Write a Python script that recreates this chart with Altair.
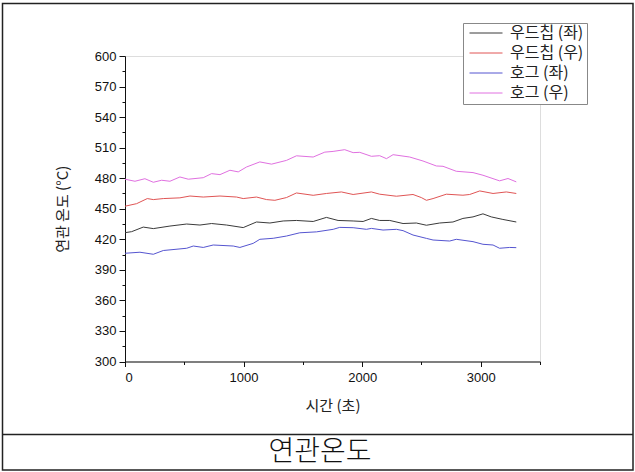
import altair as alt
import pandas as pd

series_names = ["우드칩 (좌)", "우드칩 (우)", "호그 (좌)", "호그 (우)"]
series_colors = ["#3a3a3a", "#e05555", "#5555d0", "#e070e0"]

t_wood_left = [0, 56, 154, 239, 379, 520, 632, 730, 857, 997, 1109, 1222, 1334, 1446, 1587, 1699, 1797, 1924,
               2008, 2078, 2148, 2233, 2345, 2457, 2542, 2654, 2766, 2850, 2935, 3019, 3089, 3187, 3300]
v_wood_left = [426.5, 427.5, 432, 430.5, 433, 435, 434, 435.5, 434, 431.5, 437, 436, 438, 438.5, 437.5, 441.5, 438.5, 438,
               437.5, 440.5, 438.5, 438.5, 435.5, 436, 433.8, 436, 437, 440.5, 442, 445, 442, 439.5, 437]

t_wood_right = [0, 98, 188, 239, 323, 463, 548, 660, 801, 941, 997, 1109, 1194, 1264, 1362, 1446, 1587, 1699, 1825,
                1924, 2078, 2148, 2289, 2429, 2499, 2542, 2598, 2710, 2850, 2907, 2992, 3104, 3216, 3300]
v_wood_right = [452.5, 455, 460, 459, 460, 460.7, 462.5, 461.5, 462.5, 461.5, 460, 461.5, 459, 458.3, 461, 465.5, 463.2, 465, 466.5,
                464, 466.5, 464.3, 462.3, 464, 461, 458.3, 460, 464.3, 463.3, 464, 467.5, 465, 466.5, 465]

t_hog_left = [0, 126, 239, 323, 520, 576, 660, 744, 913, 969, 1081, 1137, 1250, 1362, 1474, 1615, 1756, 1811, 1924,
              2036, 2078, 2176, 2289, 2345, 2429, 2542, 2598, 2738, 2794, 2935, 3019, 3104, 3159, 3244, 3300]
v_hog_left = [406.3, 407.3, 405.3, 409, 411.2, 413.4, 412, 414.4, 413.4, 412, 416, 420, 421, 423.2, 426.4, 427.3, 429.8, 431.7, 431.4,
              429.8, 430.7, 429.1, 429.8, 428.5, 424.2, 420.9, 419.3, 418.3, 420, 417.7, 415.1, 414.4, 411.2, 412, 411.8]

t_hog_right = [0, 84, 168, 239, 309, 379, 463, 534, 660, 730, 801, 885, 955, 1025, 1137, 1236, 1362, 1446, 1587, 1685,
               1755, 1853, 1924, 1980, 2078, 2148, 2205, 2261, 2401, 2513, 2626, 2682, 2794, 2935, 3019, 3159, 3230, 3300]
v_hog_right = [479, 477, 479.5, 476, 478, 477, 481.2, 479, 480.5, 484.5, 483.5, 487.8, 486.2, 491, 496, 493.8, 497.5, 502, 500.8, 505.6,
               506.3, 508, 505.1, 505.4, 501.5, 502.1, 499.2, 503.1, 500.8, 496.9, 492, 491.7, 486.8, 485.5, 482.9, 477.4, 479.7, 476.4]

x_ticks = [0, 500, 1000, 1500, 2000, 2500, 3000, 3500]
y_ticks = [300 + 15 * i for i in range(21)]

x_title = "시간 (초)"
y_title = "연관 온도 (°C)"
caption = "연관온도"

rows = []
for name, ts, vs in zip(series_names,
                        [t_wood_left, t_wood_right, t_hog_left, t_hog_right],
                        [v_wood_left, v_wood_right, v_hog_left, v_hog_right]):
    for t, v in zip(ts, vs):
        rows.append({"series": name, "t": t, "v": v})
df = pd.DataFrame(rows)

KFONT = "Noto Sans CJK KR"
NFONT = "Liberation Sans"

lines = alt.Chart(df).mark_line(strokeWidth=1).encode(
    x=alt.X("t:Q", scale=alt.Scale(domain=[0, 3500], nice=False),
            axis=alt.Axis(values=x_ticks, title=x_title, grid=False, format="d",
                          labelExpr="datum.value % 1000 == 0 ? datum.label : ''",
                          tickSize={"condition": {"test": "datum.value % 1000 != 0", "value": 3}, "value": 5},
                          labelFont=NFONT, labelFontSize=13, labelColor="#111", labelPadding=5,
                          titleFont=KFONT, titleFontSize=15, titleFontWeight="normal", titleColor="#222",
                          titleY=43.5, titleBaseline="middle",
                          domainColor="#111", tickColor="#111")),
    y=alt.Y("v:Q", scale=alt.Scale(domain=[300, 600], nice=False, zero=False),
            axis=alt.Axis(values=y_ticks, title=y_title, grid=False, format="d",
                          labelExpr="datum.value % 30 == 0 ? datum.label : ''",
                          tickSize={"condition": {"test": "datum.value % 30 != 0", "value": 3}, "value": 6},
                          labelFont=NFONT, labelFontSize=13, labelColor="#111", labelPadding=3,
                          titleFont=KFONT, titleFontSize=15, titleFontWeight="normal", titleColor="#222",
                          titleX=-63, titleBaseline="middle",
                          domainColor="#111", tickColor="#111")),
    color=alt.Color("series:N", sort=series_names,
                    scale=alt.Scale(domain=series_names, range=series_colors),
                    legend=alt.Legend(orient="none", legendX=338, legendY=-33, title=None,
                                      symbolType="stroke", symbolSize=1089, symbolStrokeWidth=1,
                                      symbolOffset=3,
                                      labelFont=KFONT, labelFontSize=16, labelColor="#222",
                                      labelOffset=7, strokeColor="#888", fillColor="white",
                                      padding=3, rowPadding=4, clipHeight=14)),
    detail="series:N",
)

base = alt.Chart(pd.DataFrame({"k": [0]}))
frame = base.mark_rect(fillOpacity=0, stroke="#222", strokeWidth=1.5).encode(
    x=alt.value(-122.5), x2=alt.value(508), y=alt.value(-52.5), y2=alt.value(414))
sep = base.mark_rule(stroke="#222", strokeWidth=1.5).encode(
    x=alt.value(-122.5), x2=alt.value(508), y=alt.value(378.5))
cap = base.mark_text(font=KFONT, fontSize=28, fontWeight=300, color="#111", baseline="middle", align="center").encode(
    x=alt.value(195), y=alt.value(397), text=alt.value(caption))

chart = alt.layer(lines, frame, sep, cap).properties(
    width=415, height=305.5,
    autosize=alt.AutoSizeParams(type="none"),
    padding={"left": 125, "top": 56, "right": 95, "bottom": 110.5},
).configure_view(stroke=None).configure(background="white")

chart.save("out.html", embed_options={"renderer": "svg", "actions": False})
